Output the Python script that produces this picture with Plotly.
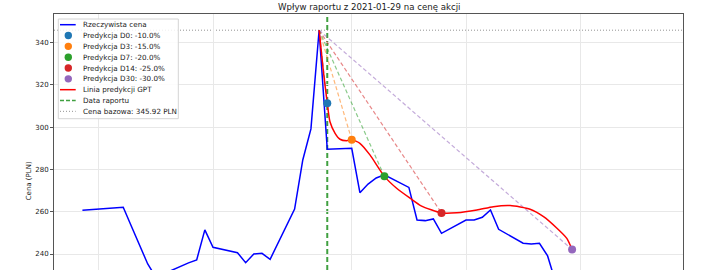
import plotly.graph_objects as go

# ---------------- data ----------------
actual_dates = ["2020-12-30", "2021-01-04", "2021-01-05", "2021-01-07", "2021-01-08",
                "2021-01-11", "2021-01-12", "2021-01-13", "2021-01-14", "2021-01-15",
                "2021-01-18", "2021-01-19", "2021-01-20", "2021-01-21", "2021-01-22",
                "2021-01-25", "2021-01-26", "2021-01-27", "2021-01-28", "2021-01-29",
                "2021-02-01", "2021-02-02", "2021-02-03", "2021-02-04", "2021-02-05",
                "2021-02-08", "2021-02-09", "2021-02-10", "2021-02-11", "2021-02-12",
                "2021-02-15", "2021-02-16", "2021-02-17", "2021-02-18", "2021-02-19",
                "2021-02-22", "2021-02-23", "2021-02-24", "2021-02-25", "2021-02-26",
                "2021-03-01", "2021-03-02", "2021-03-03", "2021-03-04", "2021-03-05",
                "2021-03-08", "2021-03-09", "2021-03-10"]
actual_prices = [260.7, 262.1, 253.1, 235.3, 229.0,
                 234.2, 235.8, 237.2, 251.4, 243.2,
                 240.6, 235.9, 240.0, 240.3, 237.5,
                 261.3, 284.5, 299.2, 345.92, 289.6,
                 290.0, 269.0, 273.1, 276.0, 277.5,
                 271.5, 256.1, 255.8, 256.6, 249.8,
                 256.1, 256.1, 257.4, 260.8, 251.7,
                 245.1, 244.7, 245.1, 239.1, 226.4,
                 215.0, 206.0, 200.0, 197.0, 194.0,
                 192.3, 195.0, 199.0]

base_date = "2021-01-28"
base_price = 345.92
report_date = "2021-01-29"

pred_labels = ["D0", "D3", "D7", "D14", "D30"]
pred_pct = [-10.0, -15.0, -20.0, -25.0, -30.0]
pred_dates = ["2021-01-29", "2021-02-01", "2021-02-05", "2021-02-12", "2021-02-28"]
pred_values = [311.33, 294.03, 276.74, 259.44, 242.14]
pred_colors = ["#1f77b4", "#ff7f0e", "#2ca02c", "#d62728", "#9467bd"]

gpt_curve_dates = ["2021-01-28 00:00", "2021-01-28 12:00", "2021-01-29 00:00", "2021-01-29 08:00",
                   "2021-01-29 23:00", "2021-01-30 13:30", "2021-01-31 09:00", "2021-02-01 00:00",
                   "2021-02-02 00:00", "2021-02-03 05:30", "2021-02-05 00:00", "2021-02-06 12:00",
                   "2021-02-08 03:30", "2021-02-09 12:00", "2021-02-12 00:00", "2021-02-13 21:00",
                   "2021-02-16 08:00", "2021-02-18 08:30", "2021-02-20 10:00", "2021-02-22 20:30",
                   "2021-02-24 12:00", "2021-02-26 03:30", "2021-02-27 08:30", "2021-02-28 00:00"]
gpt_curve_values = [345.92, 327.3, 311.33, 302.6,
                    297.1, 294.3, 293.6, 294.03,
                    292.4, 286.9, 276.74, 271.1,
                    266.4, 262.8, 259.44, 259.5,
                    260.8, 262.4, 262.9, 261.2,
                    257.7, 252.2, 247.4, 242.14]

x_range = ["2020-12-26 12:24", "2021-03-13 14:10"]
y_range = [232.43, 353.58]
x_ticks = ["2021-01-01", "2021-01-15", "2021-02-01", "2021-02-15", "2021-03-01"]
y_ticks = [200, 220, 240, 260, 280, 300, 320, 340]

title_text = "Wpływ raportu z 2021-01-29 na cenę akcji"
y_title = "Cena (PLN)"

# ---------------- figure ----------------
W, H = 707, 270
ML, MR, MT, MB = 54, 24, 14, 0
PW, PH = W - ML - MR, H - MT - MB
FONT = "DejaVu Sans"
TXT = "#1a1a1a"


def px(x):
    return (x - ML) / PW


def py(y):
    return 1 - (y - MT) / PH


fig = go.Figure()

fig.add_trace(go.Scatter(x=actual_dates, y=actual_prices, mode="lines",
                         line=dict(color="#0000ff", width=1.5), showlegend=False))

for d, v, c in zip(pred_dates, pred_values, pred_colors):
    fig.add_trace(go.Scatter(x=[base_date, d], y=[base_price, v], mode="lines",
                             line=dict(color=c, width=1.2, dash="4px,2.5px"),
                             opacity=0.55, showlegend=False))

fig.add_trace(go.Scatter(x=gpt_curve_dates, y=gpt_curve_values, mode="lines",
                         line=dict(color="#ff0000", width=1.5, shape="spline", smoothing=0.6),
                         showlegend=False))

for d, v, c in zip(pred_dates, pred_values, pred_colors):
    fig.add_trace(go.Scatter(x=[d], y=[v], mode="markers",
                             marker=dict(color=c, size=8, line=dict(width=0)),
                             showlegend=False))

shapes = []
annots = []

# report date vertical line and base price horizontal line
shapes.append(dict(type="line", xref="x", yref="paper", x0=report_date, x1=report_date,
                   y0=-0.5, y1=1, line=dict(color="rgba(0,128,0,0.75)", width=2, dash="5px,3px"),
                   layer="between"))
shapes.append(dict(type="line", xref="paper", yref="y", x0=0, x1=1, y0=base_price, y1=base_price,
                   line=dict(color="rgba(128,128,128,0.85)", width=1, dash="1px,2px"),
                   layer="between"))

# ---------------- custom legend (matplotlib-like) ----------------
bx0, bx1, by0, by1 = 58.3, 178.3, 19.0, 118.7
shapes.append(dict(type="rect", xref="paper", yref="paper", x0=px(bx0), x1=px(bx1),
                   y0=py(by1), y1=py(by0), line=dict(color="#d4d4d4", width=1),
                   fillcolor="rgba(255,255,255,0.85)", layer="above"))

legend_items = [("line", "#0000ff", "solid", "Rzeczywista cena")]
for lab, pct, c in zip(pred_labels, pred_pct, pred_colors):
    legend_items.append(("marker", c, None, f"Predykcja {lab}: {pct:.1f}%"))
legend_items.append(("line", "#ff0000", "solid", "Linia predykcji GPT"))
legend_items.append(("line", "rgba(0,128,0,0.75)", "4px,2px", "Data raportu"))
legend_items.append(("line", "rgba(128,128,128,0.85)", "1px,2px", f"Cena bazowa: {base_price:.2f} PLN"))

row0, dy = 24.7, 10.83
for i, (kind, col, dash, text) in enumerate(legend_items):
    ry = row0 + i * dy
    if kind == "line":
        w = 1 if dash == "1px,2px" else 1.5
        shapes.append(dict(type="line", xref="paper", yref="paper", x0=px(60), x1=px(75.7),
                           y0=py(ry), y1=py(ry), line=dict(color=col, width=w, dash=dash),
                           layer="above"))
    else:
        r = 3.7
        shapes.append(dict(type="circle", xref="paper", yref="paper", x0=px(68.3 - r),
                           x1=px(68.3 + r), y0=py(ry + r), y1=py(ry - r),
                           fillcolor=col, line=dict(width=0), layer="above"))
    annots.append(dict(text=text, xref="paper", yref="paper", x=px(81.7), y=py(ry),
                       xanchor="left", yanchor="middle", showarrow=False, borderpad=0,
                       font=dict(family=FONT, size=7.2, color=TXT)))

annots.append(dict(text=title_text, xref="paper", yref="paper", x=px(368.5), y=py(7.2),
                   xanchor="center", yanchor="middle", showarrow=False, borderpad=0,
                   font=dict(family=FONT, size=8.6, color=TXT)))
annots.append(dict(text=y_title, xref="paper", yref="paper", x=px(29.3), y=py(181),
                   xanchor="center", yanchor="middle", showarrow=False, borderpad=0,
                   textangle=-90, font=dict(family=FONT, size=7.0, color=TXT)))

fig.update_layout(
    width=W, height=H,
    margin=dict(l=ML, r=MR, t=MT, b=MB, autoexpand=False),
    paper_bgcolor="white", plot_bgcolor="white",
    showlegend=False,
    shapes=shapes, annotations=annots,
    font=dict(family=FONT, size=7.0, color=TXT),
)
fig.update_xaxes(type="date", range=x_range, tickvals=x_ticks, showticklabels=False,
                 showgrid=True, gridcolor="#e8e8e8", gridwidth=1, zeroline=False,
                 showline=True, linecolor="#555", linewidth=1, mirror=True, ticks="")
fig.update_yaxes(range=y_range, tickvals=y_ticks, showgrid=True, gridcolor="#e8e8e8",
                 gridwidth=1, zeroline=False, showline=True, linecolor="#555", linewidth=1,
                 mirror=True, ticks="outside", ticklen=3, tickcolor="#555", tickwidth=1,
                 tickfont=dict(family=FONT, size=7.0, color=TXT))

fig.write_html("out.html")
